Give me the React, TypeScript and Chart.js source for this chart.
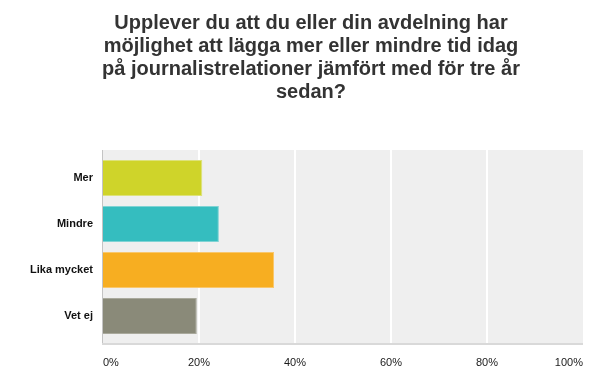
import React, { useEffect, useRef } from "react";
import { Chart, registerables } from "chart.js";

Chart.register(...registerables);

const categories = ["Mer", "Mindre", "Lika mycket", "Vet ej"];
const values = [20.69, 24.14, 35.63, 19.54];
const barColors = ["#cfd42a", "#35bdbf", "#f7ae21", "#8a8a79"];
const barBorderColors = ["#dde27a", "#7fd3d4", "#f9c76c", "#a9a99c"];
const gridValues = [20, 40, 60, 80];
const titleLines = [
  "Upplever du att du eller din avdelning har",
  "möjlighet att lägga mer eller mindre tid idag",
  "på journalistrelationer jämfört med för tre år",
  "sedan?",
];

const plotBackground = {
  id: "plotBackground",
  afterLayout(chart: any) {
    const tb = chart.titleBlock;
    if (tb) tb.left = tb.left + 31;
  },
  beforeDatasetsDraw(chart: any) {
    const { ctx, chartArea, scales } = chart;
    const { left, right, top, bottom } = chartArea;
    const ext = 5;
    const t = top - ext;
    const h = bottom - top + 2 * ext;
    ctx.save();
    ctx.fillStyle = "#efefef";
    ctx.fillRect(left, t, right - left, h);
    ctx.fillStyle = "#ffffff";
    for (const v of gridValues) {
      const px = Math.round(scales.x.getPixelForValue(v));
      ctx.fillRect(px - 1, t, 2, h);
    }
    ctx.fillStyle = "#c4c4c4";
    ctx.fillRect(left - 1, t, 1, h);
    ctx.fillStyle = "#d9d9d9";
    ctx.fillRect(left - 1, bottom + ext - 1, right - left + 1, 2);
    ctx.restore();
  },
};

export default function App() {
  const ref = useRef<HTMLCanvasElement | null>(null);

  useEffect(() => {
    if (!ref.current) return;
    const chart = new Chart(ref.current, {
      type: "bar",
      data: {
        labels: categories,
        datasets: [
          {
            data: values,
            backgroundColor: barColors,
            borderColor: barBorderColors,
            borderWidth: 1,
            barPercentage: 36 / 46,
            categoryPercentage: 1,
          },
        ],
      },
      options: {
        indexAxis: "y",
        animation: false,
        responsive: true,
        maintainAspectRatio: false,
        layout: { padding: { left: 0, right: 24, top: 0, bottom: 12 } },
        plugins: {
          legend: { display: false },
          tooltip: { enabled: false },
          title: {
            display: true,
            text: titleLines,
            color: "#333333",
            font: { family: "Arial, 'Liberation Sans'", size: 20, weight: "bold", lineHeight: 1.15 },
            padding: { top: 4, bottom: 51 },
          },
        },
        scales: {
          x: {
            type: "linear",
            min: 0,
            max: 100,
            ticks: {
              stepSize: 20,
              callback: (v: any) => v + "%",
              align: "inner",
              padding: 17,
              maxRotation: 0,
              color: "#1a1a1a",
              font: { family: "Arial, 'Liberation Sans'", size: 11 },
            },
            grid: { display: false, drawTicks: false },
            border: { display: false },
            afterFit: (s: any) => {
              s.height = 31;
            },
          },
          y: {
            ticks: {
              padding: 10,
              color: "#111111",
              font: { family: "Arial, 'Liberation Sans'", size: 11, weight: "bold" },
            },
            grid: { display: false, drawTicks: false },
            border: { display: false },
            afterFit: (s: any) => {
              s.width = 95;
            },
          },
        },
      } as any,
      plugins: [plotBackground],
    });
    return () => chart.destroy();
  }, []);

  return (
    <div style={{ width: 599, height: 374, position: "relative" }}>
      <canvas ref={ref} />
    </div>
  );
}
